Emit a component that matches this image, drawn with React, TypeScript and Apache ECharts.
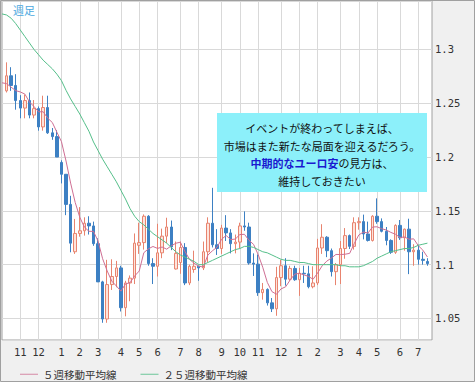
import React, { useEffect, useRef } from "react";
import * as echarts from "echarts";

// weekly categories (Monday of each week), Oct 6 2014 .. Jul 25 2016
const START = Date.UTC(2014, 9, 6);
const WEEK_COUNT = 95;
const weeks: string[] = Array.from({ length: WEEK_COUNT }, (_, i) =>
  new Date(START + i * 7 * 86400000).toISOString().slice(0, 10)
);
const monthOf = (s: string) => Number(s.slice(5, 7));
const isMonthStart = (i: number) => i > 0 && monthOf(weeks[i]) !== monthOf(weeks[i - 1]);

// [open, close, low, high]
const candles: (number[] | null)[] = [
  null,
  [1.2615, 1.2755, 1.2600, 1.2880],
  [1.2755, 1.2665, 1.2615, 1.2835],
  [1.2665, 1.2525, 1.2440, 1.2770],
  [1.2525, 1.2455, 1.2360, 1.2575],
  [1.2455, 1.2525, 1.2360, 1.2580],
  [1.2525, 1.2390, 1.2360, 1.2600],
  [1.2390, 1.2450, 1.2360, 1.2530],
  [1.2450, 1.2280, 1.2245, 1.2470],
  [1.2280, 1.2460, 1.2245, 1.2570],
  [1.2460, 1.2225, 1.2215, 1.2570],
  [1.2225, 1.2190, 1.2160, 1.2270],
  [1.2190, 1.2000, 1.2000, 1.2250],
  [1.1950, 1.1840, 1.1755, 1.1970],
  [1.1840, 1.1560, 1.1460, 1.1840],
  [1.1560, 1.1200, 1.1115, 1.1640],
  [1.1120, 1.1290, 1.1100, 1.1425],
  [1.1290, 1.1315, 1.1260, 1.1535],
  [1.1315, 1.1385, 1.1270, 1.1440],
  [1.1385, 1.1360, 1.1280, 1.1450],
  [1.1360, 1.1195, 1.1175, 1.1400],
  [1.1195, 1.0840, 1.0840, 1.1245],
  [1.0840, 1.0495, 1.0460, 1.0850],
  [1.0495, 1.0815, 1.0460, 1.1045],
  [1.0815, 1.0890, 1.0765, 1.1050],
  [1.0890, 1.0970, 1.0790, 1.1035],
  [1.0970, 1.0600, 1.0565, 1.0990],
  [1.0600, 1.0830, 1.0520, 1.0850],
  [1.0830, 1.0875, 1.0660, 1.0900],
  [1.0875, 1.1200, 1.0820, 1.1290],
  [1.1180, 1.1205, 1.1100, 1.1390],
  [1.1205, 1.1450, 1.1140, 1.1467],
  [1.1450, 1.1010, 1.0990, 1.1460],
  [1.1010, 1.0985, 1.0820, 1.1060],
  [1.0985, 1.1110, 1.0890, 1.1380],
  [1.1110, 1.1265, 1.1060, 1.1335],
  [1.1265, 1.1350, 1.1200, 1.1436],
  [1.1350, 1.1165, 1.1135, 1.1410],
  [1.0960, 1.1105, 1.0955, 1.1215],
  [1.1020, 1.1160, 1.0915, 1.1215],
  [1.1160, 1.0830, 1.0810, 1.1200],
  [1.0830, 1.0985, 1.0810, 1.1000],
  [1.0955, 1.0985, 1.0925, 1.1130],
  [1.0985, 1.0970, 1.0850, 1.0990],
  [1.0970, 1.1120, 1.0950, 1.1215],
  [1.1120, 1.1385, 1.1020, 1.1440],
  [1.1385, 1.1185, 1.1160, 1.1714],
  [1.1185, 1.1150, 1.1090, 1.1330],
  [1.1150, 1.1340, 1.1100, 1.1370],
  [1.1340, 1.1295, 1.1220, 1.1460],
  [1.1295, 1.1195, 1.1105, 1.1330],
  [1.1195, 1.1210, 1.1105, 1.1280],
  [1.1210, 1.1360, 1.1150, 1.1390],
  [1.1360, 1.1350, 1.1315, 1.1495],
  [1.1350, 1.1015, 1.1000, 1.1390],
  [1.1015, 1.1005, 1.0895, 1.1105],
  [1.1005, 1.0740, 1.0710, 1.1095],
  [1.0740, 1.0770, 1.0675, 1.0830],
  [1.0770, 1.0645, 1.0620, 1.0780],
  [1.0645, 1.0590, 1.0560, 1.0690],
  [1.0590, 1.0880, 1.0525, 1.0980],
  [1.0880, 1.0990, 1.0800, 1.1045],
  [1.0990, 1.0865, 1.0805, 1.1060],
  [1.0865, 1.0965, 1.0850, 1.0990],
  [1.0965, 1.0860, 1.0850, 1.0990],
  [1.0860, 1.0920, 1.0710, 1.0970],
  [1.0920, 1.0915, 1.0830, 1.0990],
  [1.0915, 1.0795, 1.0780, 1.0990],
  [1.0795, 1.0830, 1.0780, 1.0985],
  [1.0830, 1.1155, 1.0810, 1.1240],
  [1.1155, 1.1255, 1.1100, 1.1376],
  [1.1255, 1.1130, 1.1070, 1.1265],
  [1.1130, 1.0935, 1.0890, 1.1150],
  [1.0935, 1.1000, 1.0810, 1.1015],
  [1.1000, 1.1150, 1.0820, 1.1220],
  [1.1150, 1.1270, 1.1055, 1.1340],
  [1.1270, 1.1170, 1.1145, 1.1280],
  [1.1170, 1.1390, 1.1140, 1.1440],
  [1.1390, 1.1400, 1.1325, 1.1440],
  [1.1400, 1.1285, 1.1235, 1.1465],
  [1.1285, 1.1225, 1.1215, 1.1400],
  [1.1225, 1.1450, 1.1215, 1.1460],
  [1.1450, 1.1400, 1.1380, 1.1616],
  [1.1400, 1.1310, 1.1300, 1.1430],
  [1.1310, 1.1225, 1.1180, 1.1350],
  [1.1225, 1.1115, 1.1100, 1.1235],
  [1.1115, 1.1365, 1.1100, 1.1375],
  [1.1365, 1.1250, 1.1230, 1.1415],
  [1.1250, 1.1330, 1.1130, 1.1335],
  [1.1330, 1.1120, 1.0912, 1.1427],
  [1.1120, 1.1135, 1.0990, 1.1190],
  [1.1135, 1.1050, 1.1000, 1.1185],
  [1.1050, 1.1040, 1.1000, 1.1120],
  [1.1030, 1.1010, 1.0990, 1.1060],
  null,
];

const ma5: (number | null)[] = [
  1.2690, 1.2682, 1.2649, 1.2617, 1.2605, 1.2585, 1.2512, 1.2469, 1.2420, 1.2421,
  1.2361, 1.2321, 1.2231, 1.2143, 1.1963, 1.1758, 1.1578, 1.1441, 1.1350, 1.1310,
  1.1309, 1.1219, 1.1055, 1.0941, 1.0847, 1.0802, 1.0754, 1.0821, 1.0833, 1.0895,
  1.0941, 1.1111, 1.1147, 1.1169, 1.1151, 1.1164, 1.1144, 1.1175, 1.1199, 1.1209,
  1.1122, 1.1049, 1.1013, 1.0986, 1.0978, 1.1089, 1.1129, 1.1162, 1.1236, 1.1271,
  1.1233, 1.1238, 1.1280, 1.1282, 1.1226, 1.1188, 1.1094, 1.0976, 1.0835, 1.0750,
  1.0725, 1.0775, 1.0794, 1.0858, 1.0912, 1.0920, 1.0905, 1.0891, 1.0864, 1.0923,
  1.0990, 1.1033, 1.1061, 1.1095, 1.1094, 1.1097, 1.1105, 1.1196, 1.1276, 1.1303,
  1.1294, 1.1350, 1.1352, 1.1334, 1.1322, 1.1300, 1.1283, 1.1253, 1.1257, 1.1236,
  1.1240, 1.1177, 1.1135, 1.1071, null,
];

const ma25: (number | null)[] = [
  1.333, 1.332, 1.329, 1.324, 1.318, 1.312, 1.306, 1.300, 1.295, 1.290,
  1.286, 1.282, 1.277, 1.271, 1.262, 1.254, 1.247, 1.240, 1.232, 1.224,
  1.214, 1.206, 1.198, 1.191, 1.184, 1.177, 1.169, 1.161, 1.152, 1.145,
  1.140, 1.137, 1.133, 1.129, 1.126, 1.123, 1.120, 1.116, 1.112, 1.109,
  1.107, 1.105, 1.103, 1.100, 1.100, 1.102, 1.104, 1.106, 1.108, 1.110,
  1.112, 1.114, 1.115, 1.117, 1.117, 1.116, 1.114, 1.112, 1.111, 1.109,
  1.107, 1.105, 1.104, 1.104, 1.103, 1.102, 1.102, 1.101, 1.100, 1.100,
  1.100, 1.100, 1.100, 1.100, 1.099, 1.099, 1.098, 1.098, 1.098, 1.099,
  1.101, 1.103, 1.106, 1.108, 1.110, 1.112, 1.113, 1.114, 1.115, 1.115,
  1.116, 1.118, 1.119, 1.120, null,
];

const seriesNames = ["５週移動平均線", "２５週移動平均線"];
const chartTitle = "週足";
const noteLines = [
  "イベントが終わってしまえば、",
  "市場はまた新たな局面を迎えるだろう。",
  "{b|中期的なユーロ安}{n|の見方は、}",
  "維持しておきたい",
];

const JP = '"Noto Sans CJK JP", "Noto Sans", sans-serif';
const MONO = '"DejaVu Sans Mono", "Liberation Mono", monospace';

export default function App() {
  const ref = useRef<HTMLDivElement>(null);
  useEffect(() => {
    if (!ref.current) return;
    const chart = echarts.init(ref.current, null, { renderer: "svg" });
    const noteY = [127.5, 145.5, 163, 180.5];
    const textStyleBase = (y: number, text: string, extra: any = {}) => ({
      type: "text",
      x: 322,
      y,
      z: 101,
      silent: true,
      style: {
        text,
        fill: "#111",
        font: `11px ${JP}`,
        align: "center",
        verticalAlign: "middle",
        textAlign: "center",
        textVerticalAlign: "middle",
        ...extra,
      },
    });
    chart.setOption({
      animation: false,
      backgroundColor: "#f0f0f0",
      grid: {
        left: 2,
        top: 1,
        right: 43,
        bottom: 42,
        show: true,
        backgroundColor: "#ffffff",
        borderColor: "#a0a0a0",
        borderWidth: 1,
      },
      legend: {
        data: seriesNames,
        icon: "rect",
        left: 15,
        top: 364,
        itemWidth: 18,
        itemHeight: 1,
        itemGap: 24,
        textStyle: { fontSize: 10.5, color: "#333", fontFamily: JP },
      },
      xAxis: {
        type: "category",
        data: weeks,
        boundaryGap: false,
        axisLine: { show: false },
        axisTick: { show: false },
        axisLabel: {
          interval: (i: number) => isMonthStart(i),
          formatter: (v: string) => String(monthOf(v)),
          color: "#333",
          fontSize: 10.5,
          fontFamily: MONO,
          margin: 6,
        },
        splitLine: {
          show: true,
          interval: (i: number) => isMonthStart(i),
          lineStyle: { color: "#d9d9d9", width: 1 },
        },
      },
      yAxis: {
        type: "value",
        position: "right",
        min: 1.03,
        max: 1.345,
        splitNumber: 5,
        axisLine: { show: false },
        axisTick: { show: false },
        axisLabel: {
          showMinLabel: false,
          showMaxLabel: false,
          color: "#333",
          fontSize: 10.5,
          fontFamily: MONO,
          margin: 3,
        },
        splitLine: { show: true, lineStyle: { color: "#d9d9d9", width: 1 } },
      },
      series: [
        {
          type: "candlestick",
          data: candles.map((c) => (c ? c : ["-", "-", "-", "-"])),
          barWidth: 3,
          itemStyle: {
            color: "#fde4dc",
            color0: "#3d80c3",
            borderColor: "#e8846f",
            borderColor0: "#3d80c3",
            borderWidth: 1,
          },
          z: 2,
        },
        {
          name: seriesNames[0],
          type: "line",
          data: ma5,
          symbol: "none",
          lineStyle: { color: "#cf6f94", width: 1 },
          itemStyle: { color: "#d68aa6" },
          z: 3,
        },
        {
          name: seriesNames[1],
          type: "line",
          data: ma25,
          symbol: "none",
          lineStyle: { color: "#55bf8a", width: 1 },
          itemStyle: { color: "#6cc79a" },
          z: 3,
        },
      ],
      graphic: [
        {
          type: "text",
          x: 13,
          y: 4,
          z: 101,
          silent: true,
          style: { text: chartTitle, fill: "#4aa8e0", font: `11px ${JP}` },
        },
        {
          type: "rect",
          z: 100,
          silent: true,
          shape: { x: 217, y: 113, width: 210, height: 79 },
          style: { fill: "#8cf0fa" },
        },
        textStyleBase(noteY[0], noteLines[0]),
        textStyleBase(noteY[1], noteLines[1]),
        textStyleBase(noteY[2], noteLines[2], {
          rich: {
            b: { fill: "#1a1ad0", fontWeight: "bold", fontSize: 11, fontFamily: JP },
            n: { fill: "#111", fontSize: 11, fontFamily: JP },
          },
        }),
        textStyleBase(noteY[3], noteLines[3]),
        {
          type: "rect",
          z: 102,
          silent: true,
          shape: { x: 0.5, y: 0.5, width: 474, height: 381 },
          style: { fill: "none", stroke: "#a0a0a0", lineWidth: 1 },
        },
      ],
    });
    return () => chart.dispose();
  }, []);
  return (
    <div
      ref={ref}
      style={{ position: "absolute", left: 0, top: 0, width: 475, height: 382 }}
    />
  );
}
